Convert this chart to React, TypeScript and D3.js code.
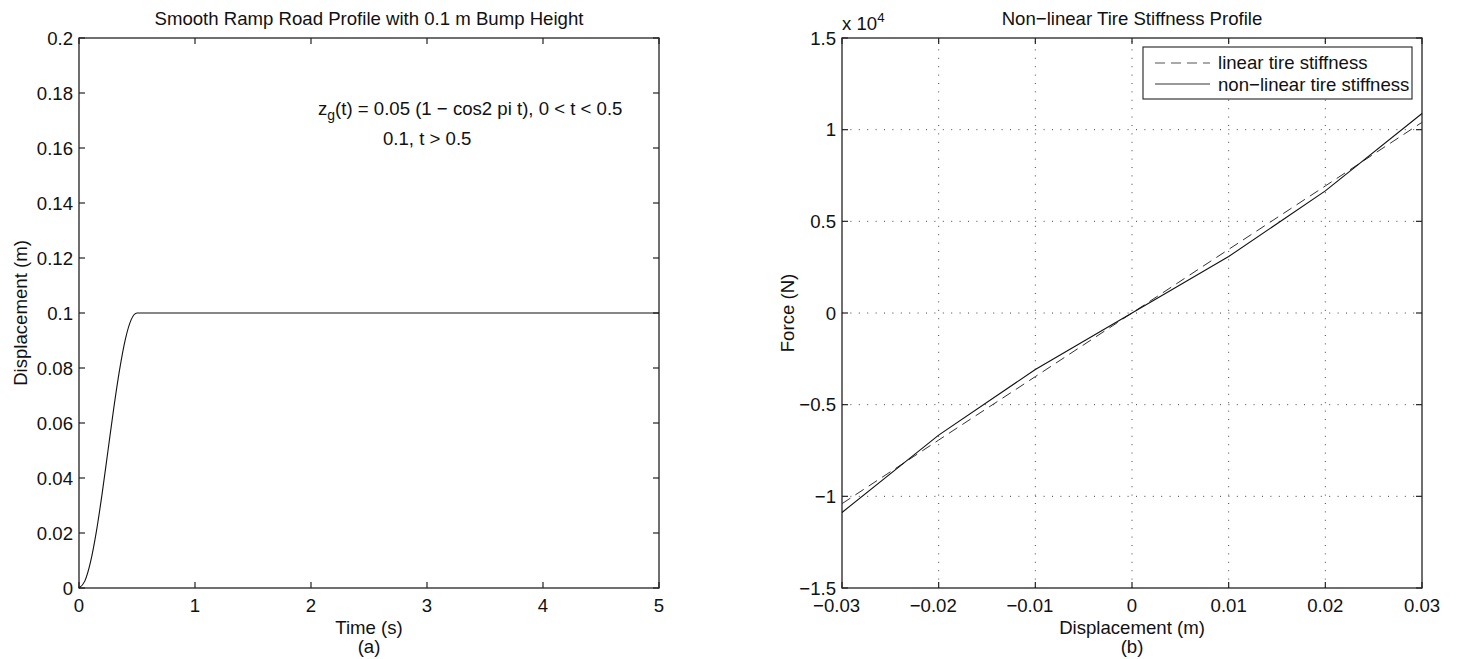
import React from "react";
import * as d3 from "d3";

// Panel (a): road profile samples (time in s, displacement in m)
const rampTime = [0, 0.05, 0.1, 0.15, 0.2, 0.25, 0.3, 0.35, 0.4, 0.45, 0.5, 1, 2, 3, 4, 5];
const rampDisp = [0, 0.0025, 0.0096, 0.0206, 0.0345, 0.05, 0.0655, 0.0794, 0.0905, 0.0976, 0.1, 0.1, 0.1, 0.1, 0.1, 0.1];
const timeTicks = [0, 1, 2, 3, 4, 5];
const dispTicks = [0, 0.02, 0.04, 0.06, 0.08, 0.1, 0.12, 0.14, 0.16, 0.18, 0.2];

// Panel (b): tire force vs deflection (force in units of 1e4 N)
const tireDisp = [-0.03, -0.02, -0.01, 0, 0.01, 0.02, 0.03];
const linearForce = [-1.04, -0.693, -0.347, 0, 0.347, 0.693, 1.04];
const nonlinearForce = [-1.088, -0.666, -0.308, 0, 0.308, 0.666, 1.088];
const deflTicks = [-0.03, -0.02, -0.01, 0, 0.01, 0.02, 0.03];
const forceTicks = [-1.5, -1, -0.5, 0, 0.5, 1, 1.5];
const legendLabels = ["linear tire stiffness", "non\u2212linear tire stiffness"];

const FONT = "'Liberation Sans', Arial, Helvetica, sans-serif";
const FS = 18.6;
const TICK = 6;

const fmt = (v: number) => {
  const s = String(+v.toFixed(4));
  return s.replace("-", "\u2212");
};

function Frame({ x, y, xTicks, yTicks, grid }: any) {
  const [x0, x1] = x.range();
  const [y0, y1] = y.range(); // y0 bottom, y1 top
  return (
    <g>
      {grid &&
        xTicks.slice(1, -1).map((t: number) => (
          <line key={"gx" + t} x1={x(t)} x2={x(t)} y1={y0} y2={y1} stroke="#444" strokeWidth={1} strokeDasharray="1,7.4" />
        ))}
      {grid &&
        yTicks.slice(1, -1).map((t: number) => (
          <line key={"gy" + t} x1={x0} x2={x1} y1={y(t)} y2={y(t)} stroke="#444" strokeWidth={1} strokeDasharray="1,7.4" />
        ))}
      {xTicks.map((t: number) => (
        <g key={"tx" + t}>
          <line x1={x(t)} x2={x(t)} y1={y0} y2={y0 - TICK} stroke="#222" strokeWidth={1.2} />
          <line x1={x(t)} x2={x(t)} y1={y1} y2={y1 + TICK} stroke="#222" strokeWidth={1.2} />
          {/* the number itself is centred on the tick; a minus sign hangs to its left */}
          <text x={x(t)} y={y0 + 24} dx={t < 0 ? "-0.29em" : 0} textAnchor="middle" fontFamily={FONT} fontSize={FS} fill="#111">
            {fmt(t)}
          </text>
        </g>
      ))}
      {yTicks.map((t: number) => (
        <g key={"ty" + t}>
          <line x1={x0} x2={x0 + TICK} y1={y(t)} y2={y(t)} stroke="#222" strokeWidth={1.2} />
          <line x1={x1} x2={x1 - TICK} y1={y(t)} y2={y(t)} stroke="#222" strokeWidth={1.2} />
          <text x={x0 - 6} y={y(t)} dy="0.36em" textAnchor="end" fontFamily={FONT} fontSize={FS} fill="#111">
            {fmt(t)}
          </text>
        </g>
      ))}
      <rect x={x0} y={y1} width={x1 - x0} height={y0 - y1} fill="none" stroke="#222" strokeWidth={1.3} />
    </g>
  );
}

export default function App() {
  const W = 1457;
  const H = 659;

  // Panel (a)
  const xa = d3.scaleLinear().domain([0, 5]).range([79, 659]);
  const ya = d3.scaleLinear().domain([0, 0.2]).range([588, 38]);
  const rampLine = d3
    .line<number>()
    .x((_, i) => xa(rampTime[i]))
    .y((d) => ya(d))
    .curve(d3.curveMonotoneX);

  // Panel (b)
  const xb = d3.scaleLinear().domain([-0.03, 0.03]).range([842, 1422]);
  const yb = d3.scaleLinear().domain([-1.5, 1.5]).range([588, 38]);
  const tireLine = d3
    .line<number>()
    .x((_, i) => xb(tireDisp[i]))
    .y((d) => yb(d));

  const cxA = (xa.range()[0] + xa.range()[1]) / 2;
  const cxB = (xb.range()[0] + xb.range()[1]) / 2;
  const midY = (ya.range()[0] + ya.range()[1]) / 2;

  return (
    <svg width={W} height={H} style={{ position: "absolute", left: 0, top: 0, background: "#fff" }}>
      <rect width={W} height={H} fill="#fff" />

      {/* (a) Smooth ramp road profile */}
      <Frame x={xa} y={ya} xTicks={timeTicks} yTicks={dispTicks} grid={false} />
      <path d={rampLine(rampDisp) || ""} fill="none" stroke="#111" strokeWidth={1.1} />
      <text x={cxA} y={25} textAnchor="middle" fontFamily={FONT} fontSize={FS} fill="#111">
        Smooth Ramp Road Profile with 0.1 m Bump Height
      </text>
      <text x={cxA} y={634} textAnchor="middle" fontFamily={FONT} fontSize={FS} fill="#111">
        Time (s)
      </text>
      <text x={cxA} y={653} textAnchor="middle" fontFamily={FONT} fontSize={FS} fill="#111">
        (a)
      </text>
      <text transform={`translate(27,${midY}) rotate(-90)`} textAnchor="middle" fontFamily={FONT} fontSize={FS} fill="#111">
        Displacement (m)
      </text>
      <text x={318} y={115} fontFamily={FONT} fontSize={FS} fill="#111">
        z<tspan fontSize={FS * 0.75} dy={5}>g</tspan>
        <tspan dy={-5}>(t) = 0.05 (1 {"\u2212"} cos2 pi t), 0 {"<"} t {"<"} 0.5</tspan>
      </text>
      <text x={383} y={145} fontFamily={FONT} fontSize={FS} fill="#111">
        0.1, t {">"} 0.5
      </text>

      {/* (b) Tire stiffness profile */}
      <Frame x={xb} y={yb} xTicks={deflTicks} yTicks={forceTicks} grid={true} />
      <path d={tireLine(linearForce) || ""} fill="none" stroke="#333" strokeWidth={1} strokeDasharray="10,6" />
      <path d={tireLine(nonlinearForce) || ""} fill="none" stroke="#111" strokeWidth={1.1} />
      <text x={cxB} y={25} textAnchor="middle" fontFamily={FONT} fontSize={FS} fill="#111">
        Non{"\u2212"}linear Tire Stiffness Profile
      </text>
      <text x={842} y={30} fontFamily={FONT} fontSize={FS} fill="#111">
        x 10<tspan fontSize={FS * 0.72} dy={-8}>4</tspan>
      </text>
      <text x={cxB} y={634} textAnchor="middle" fontFamily={FONT} fontSize={FS} fill="#111">
        Displacement (m)
      </text>
      <text x={cxB} y={653} textAnchor="middle" fontFamily={FONT} fontSize={FS} fill="#111">
        (b)
      </text>
      <text transform={`translate(794,${midY}) rotate(-90)`} textAnchor="middle" fontFamily={FONT} fontSize={FS} fill="#111">
        Force (N)
      </text>

      {/* Legend */}
      <g>
        <rect x={1143} y={47} width={269} height={52} fill="#fff" stroke="#222" strokeWidth={1.1} />
        <line x1={1155} x2={1210} y1={63} y2={63} stroke="#555" strokeWidth={1} strokeDasharray="10,6" />
        <line x1={1155} x2={1210} y1={84} y2={84} stroke="#333" strokeWidth={1} />
        <text x={1218} y={69} fontFamily={FONT} fontSize={FS} fill="#111">
          {legendLabels[0]}
        </text>
        <text x={1218} y={91} fontFamily={FONT} fontSize={FS} fill="#111">
          {legendLabels[1]}
        </text>
      </g>
    </svg>
  );
}
